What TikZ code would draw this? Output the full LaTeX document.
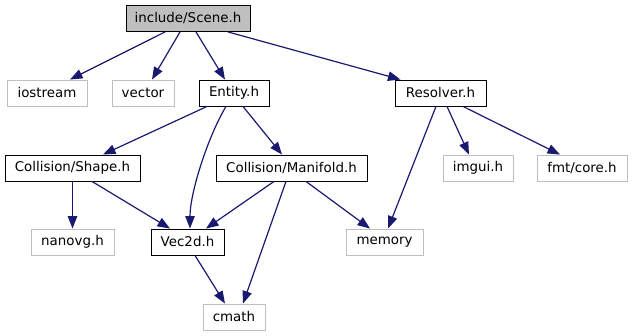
\documentclass[tikz,border=0pt]{standalone}
\usepackage{fontspec}
\setmainfont{DejaVu Sans}
\usetikzlibrary{arrows.meta}
\definecolor{edgeblue}{HTML}{191970}
\definecolor{extgray}{HTML}{BFBFBF}
\begin{document}
\begin{tikzpicture}[x=1pt,y=-1pt,
  box/.style={draw=black,line width=0.9pt,inner sep=0pt,minimum height=26pt,
    font=\fontsize{13.4}{15}\selectfont,text=black},
  ext/.style={box,draw=extgray},
  root/.style={box,fill=extgray},
  edge/.style={draw=edgeblue,line width=1.2pt,
    -{Triangle[length=12.5pt,width=9.5pt]}}]
\useasboundingbox (0,0) rectangle (632,336);

% header nodes
\node[root,minimum width=124pt] (scene)    at (188,18.5)   {include/Scene.h};
\node[ext, minimum width=80pt]  (iostream) at (47,93)      {iostream};
\node[ext, minimum width=62pt]  (vector)   at (143,93)     {vector};
\node[box, minimum width=70pt]  (entity)   at (234,93)     {Entity.h};
\node[box, minimum width=91pt]  (resolver) at (440.5,93)   {Resolver.h};
\node[box, minimum width=135pt] (shape)    at (72.5,168)   {Collision/Shape.h};
\node[box, minimum width=151pt] (manifold) at (291.5,168)  {Collision/Manifold.h};
\node[ext, minimum width=70pt]  (imgui)    at (478,168)    {imgui.h};
\node[ext, minimum width=90pt]  (fmt)      at (582,168)    {fmt/core.h};
\node[ext, minimum width=83pt]  (nanovg)   at (72.5,242)   {nanovg.h};
\node[box, minimum width=73pt]  (vec)      at (187.5,242)  {Vec2d.h};
\node[ext, minimum width=77pt]  (memory)   at (384.5,242)  {memory};
\node[ext, minimum width=62pt]  (cmath)    at (234,317)    {cmath};

% include edges
\draw[edge] ([xshift=-23pt]scene.south) -- ([xshift=23pt]iostream.north);
\draw[edge] ([xshift=-8pt]scene.south) -- ([xshift=9pt]vector.north);
\draw[edge] ([xshift=8pt]scene.south) -- ([xshift=-9pt]entity.north);
\draw[edge] ([xshift=40pt]scene.south) -- ([xshift=-40pt]resolver.north);

\draw[edge] ([xshift=-27pt]entity.south) -- ([xshift=30.5pt]shape.north);
\draw[edge] ([xshift=-8pt]entity.south) .. controls +(-18,30) and +(0,-36) .. ([xshift=2.5pt]vec.north);
\draw[edge] ([xshift=9pt]entity.south) -- ([xshift=-9.5pt]manifold.north);

\draw[edge] ([xshift=-4.5pt]resolver.south) -- ([xshift=3.5pt]memory.north);
\draw[edge] ([xshift=6.5pt]resolver.south) -- ([xshift=-9pt]imgui.north);
\draw[edge] ([xshift=22.5pt]resolver.south) -- ([xshift=-22pt]fmt.north);

\draw[edge] (shape.south) -- (nanovg.north);
\draw[edge] ([xshift=19.5pt]shape.south) -- ([xshift=-17.5pt]vec.north);

\draw[edge] ([xshift=-17.5pt]manifold.south) -- ([xshift=18.5pt]vec.north);
\draw[edge] ([xshift=-5.5pt]manifold.south) -- ([xshift=9pt]cmath.north);
\draw[edge] ([xshift=14.5pt]manifold.south) -- ([xshift=-14.5pt]memory.north);

\draw[edge] ([xshift=7.5pt]vec.south) -- ([xshift=-9pt]cmath.north);
\end{tikzpicture}
\end{document}
